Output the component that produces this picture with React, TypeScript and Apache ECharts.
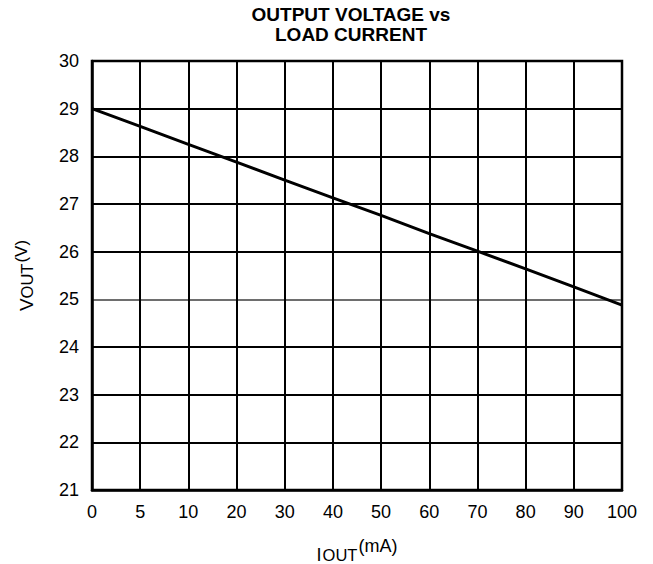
import React, { useEffect, useRef } from "react";
import * as echarts from "echarts";

const currentLabels = ["0", "5", "10", "20", "30", "40", "50", "60", "70", "80", "90", "100"];
const voutValues = [29.0, 28.63, 28.25, 27.88, 27.5, 27.13, 26.76, 26.38, 26.01, 25.64, 25.26, 24.88];
const yMin = 21;
const yMax = 30;
const titleText = "OUTPUT VOLTAGE vs\nLOAD CURRENT";

const FONT = "'Liberation Sans', Arial, sans-serif";

export default function App() {
  const ref = useRef<HTMLDivElement>(null);
  useEffect(() => {
    if (!ref.current) return;
    const chart = echarts.init(ref.current, undefined, { renderer: "svg" });
    const splitColors = [] as string[];
    for (let v = yMin; v <= yMax; v++) splitColors.push(v === 25 ? "#6e6e6e" : "#000");
    chart.setOption({
      animation: false,
      backgroundColor: "#fff",
      title: {
        text: titleText,
        left: 346,
        textAlign: "center",
        top: -1,
        textStyle: { fontFamily: FONT, fontSize: 19, fontWeight: "bold", color: "#000", lineHeight: 20 },
      },
      grid: {
        left: 92,
        right: 31,
        top: 61,
        bottom: 74,
        show: true,
        borderColor: "#000",
        borderWidth: 2.5,
        containLabel: false,
        outerBoundsMode: "none",
      },
      xAxis: {
        type: "category",
        data: currentLabels,
        boundaryGap: false,
        axisLine: { lineStyle: { color: "#000", width: 2.5 } },
        axisTick: { show: false },
        axisLabel: { color: "#000", fontFamily: FONT, fontSize: 18, margin: 13 },
        splitLine: { show: true, lineStyle: { color: "#000", width: 2 } },
        name: "{n|I}{sub|OUT}{sup|(mA)}",
        nameLocation: "middle",
        nameGap: 47,
        nameTextStyle: {
          rich: {
            n: { fontFamily: FONT, fontSize: 18, color: "#000" },
            sub: { fontFamily: FONT, fontSize: 16.5, color: "#000", padding: [0, 0, 0, 1] },
            sup: { fontFamily: FONT, fontSize: 18, color: "#000", padding: [0, 0, 17, 1] },
          },
        },
      },
      yAxis: {
        type: "value",
        min: yMin,
        max: yMax,
        interval: 1,
        axisLine: { show: true, lineStyle: { color: "#000", width: 2.5 } },
        axisTick: { show: false },
        axisLabel: { color: "#000", fontFamily: FONT, fontSize: 18, margin: 13 },
        splitLine: { show: true, lineStyle: { color: splitColors, width: 2 } },
        name: "{n|V}{sub|OUT}{sup|(V)}",
        nameLocation: "middle",
        nameGap: 52,
        nameTextStyle: {
          rich: {
            n: { fontFamily: FONT, fontSize: 19, color: "#000" },
            sub: { fontFamily: FONT, fontSize: 16.5, color: "#000" },
            sup: { fontFamily: FONT, fontSize: 17, color: "#000", padding: [0, 0, 10, 1] },
          },
        },
      },
      series: [
        {
          type: "line",
          data: voutValues,
          symbol: "none",
          lineStyle: { color: "#000", width: 3 },
          z: 5,
        },
      ],
    });
    return () => chart.dispose();
  }, []);
  return <div ref={ref} style={{ width: 653, height: 564, position: "absolute", left: 0, top: 0 }} />;
}
